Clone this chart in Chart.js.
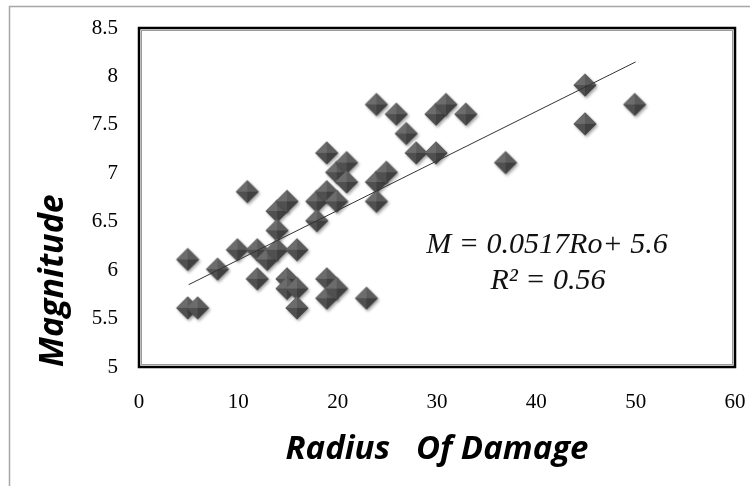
<!DOCTYPE html>
<html>
<head>
<meta charset="utf-8">
<script src="https://cdn.jsdelivr.net/npm/chart.js@4.4.1/dist/chart.umd.min.js"></script>
<style>
  html, body { margin: 0; padding: 0; background: #fff; }
  #wrap { width: 750px; height: 486px; }
</style>
</head>
<body>
<div id="wrap"><canvas id="scatterCanvas" width="750" height="486"></canvas></div>
<script>
// radius of damage vs magnitude
const radius = [5, 5, 6, 8, 10, 11, 12, 12, 13, 14, 14, 14, 15, 15, 15, 16, 16, 16, 18, 18,
    19, 19, 19, 19, 20, 20, 20, 21, 21, 23, 24, 24, 24, 25, 26, 27, 28, 30, 30, 31, 33, 37, 45, 45, 50];
const magnitude = [6.1, 5.6, 5.6, 6.0, 6.2, 6.8, 6.2, 5.9, 6.1, 6.6, 6.4, 6.2, 6.7, 5.9, 5.8, 6.2, 5.8, 5.6, 6.7, 6.5,
    7.2, 6.8, 5.9, 5.7, 7.0, 6.7, 5.8, 7.1, 6.9, 5.7, 7.7, 6.9, 6.7, 7.0, 7.6, 7.4, 7.2, 7.6, 7.2, 7.7, 7.6, 7.1, 7.9, 7.5, 7.7];

// trendline ends
const trendX = [5, 50];
const trendY = [5.85, 8.15];

const xTicks = [0, 10, 20, 30, 40, 50, 60];
const yTicks = [5, 5.5, 6, 6.5, 7, 7.5, 8, 8.5];

const equationLines = ["M = 0.0517Ro+ 5.6", "R\u00b2 = 0.56"];

// pyramid shaped diamond marker
function makeDiamond() {
    const c = document.createElement("canvas");
    c.width = 30;
    c.height = 30;
    const g = c.getContext("2d");
    const r = 11.5, cx = 14, cy = 14;
    g.save();
    g.shadowColor = "rgba(0,0,0,0.35)";
    g.shadowBlur = 3;
    g.shadowOffsetX = 1.5;
    g.shadowOffsetY = 2;
    g.fillStyle = "#4a4a4a";
    g.beginPath();
    g.moveTo(cx, cy - r); g.lineTo(cx + r, cy); g.lineTo(cx, cy + r); g.lineTo(cx - r, cy);
    g.closePath();
    g.fill();
    g.restore();
    const faces = [
        [[cx - r, cy], [cx, cy - r], "#6c6c6c"],
        [[cx, cy - r], [cx + r, cy], "#5c5c5c"],
        [[cx + r, cy], [cx, cy + r], "#404040"],
        [[cx, cy + r], [cx - r, cy], "#505050"]
    ];
    faces.forEach(f => {
        g.fillStyle = f[2];
        g.beginPath();
        g.moveTo(f[0][0], f[0][1]);
        g.lineTo(f[1][0], f[1][1]);
        g.lineTo(cx, cy);
        g.closePath();
        g.fill();
    });
    return c;
}
const diamond = makeDiamond();

const framePlugin = {
    id: "frame",
    beforeDraw(chart) {
        const ctx = chart.ctx;
        ctx.save();
        ctx.strokeStyle = "#a6a6a6";
        ctx.lineWidth = 1.5;
        ctx.strokeRect(9.5, 6.5, 900, 700);
        ctx.restore();
    },
    afterDraw(chart) {
        const ctx = chart.ctx;
        const a = chart.chartArea;
        ctx.save();
        ctx.strokeStyle = "#000";
        ctx.lineWidth = 2.5;
        ctx.strokeRect(a.left, a.top, a.right - a.left, a.bottom - a.top);
        ctx.strokeStyle = "#9a9a9a";
        ctx.lineWidth = 1;
        ctx.strokeRect(a.left + 2.5, a.top + 2.5, a.right - a.left - 5, a.bottom - a.top - 5);
        // equation of the fitted line
        ctx.fillStyle = "#111";
        ctx.font = "italic 30px 'Liberation Serif'";
        ctx.textAlign = "center";
        ctx.textBaseline = "middle";
        ctx.fillText(equationLines[0], 547, 245);
        ctx.fillText(equationLines[1], 548, 281);
        ctx.restore();
    }
};

const scatterCanvas = document.getElementById("scatterCanvas");

const scatterChart = new Chart(scatterCanvas, {
    type: "scatter",
    data: {
        datasets: [{
            label: "Magnitude",
            data: radius.map((r, i) => ({x: r, y: magnitude[i]})),
            pointStyle: diamond,
            pointRadius: 12,
            order: 2
        }, {
            type: "line",
            label: "Trend",
            data: trendX.map((t, i) => ({x: t, y: trendY[i]})),
            borderColor: "#333",
            borderWidth: 1,
            pointRadius: 0,
            fill: false,
            order: 1
        }]
    },
    options: {
        responsive: false,
        animation: false,
        layout: {
            padding: {left: 0, top: 28, right: 15, bottom: 0}
        },
        plugins: {
            legend: {display: false},
            tooltip: {enabled: false}
        },
        scales: {
            x: {
                type: "linear",
                min: 0,
                max: 60,
                afterBuildTicks: s => { s.ticks = xTicks.map(v => ({value: v})); },
                afterFit: s => { s.height = 119; s.paddingLeft = 0; s.paddingRight = 0; },
                grid: {display: false, drawTicks: false},
                border: {display: false},
                ticks: {
                    padding: 23,
                    color: "#000",
                    font: {family: "'Liberation Serif'", size: 21}
                },
                title: {
                    display: true,
                    text: "Radius   Of Damage",
                    color: "#000",
                    font: {family: "'Open Sans'", size: 33, weight: "bold", style: "italic"},
                    padding: {top: 0, bottom: 17}
                }
            },
            y: {
                min: 5,
                max: 8.5,
                afterBuildTicks: s => { s.ticks = yTicks.map(v => ({value: v})); },
                afterFit: s => { s.width = 139; s.paddingTop = 0; s.paddingBottom = 0; },
                grid: {display: false, drawTicks: false},
                border: {display: false},
                ticks: {
                    padding: 21,
                    color: "#000",
                    font: {family: "'Liberation Serif'", size: 21},
                    callback: v => String(v)
                },
                title: {
                    display: true,
                    text: "Magnitude",
                    align: "start",
                    color: "#000",
                    font: {family: "'Open Sans'", size: 34, weight: "bold", style: "italic"},
                    padding: {top: 33, bottom: 0}
                }
            }
        }
    },
    plugins: [framePlugin]
});
</script>
</body>
</html>
